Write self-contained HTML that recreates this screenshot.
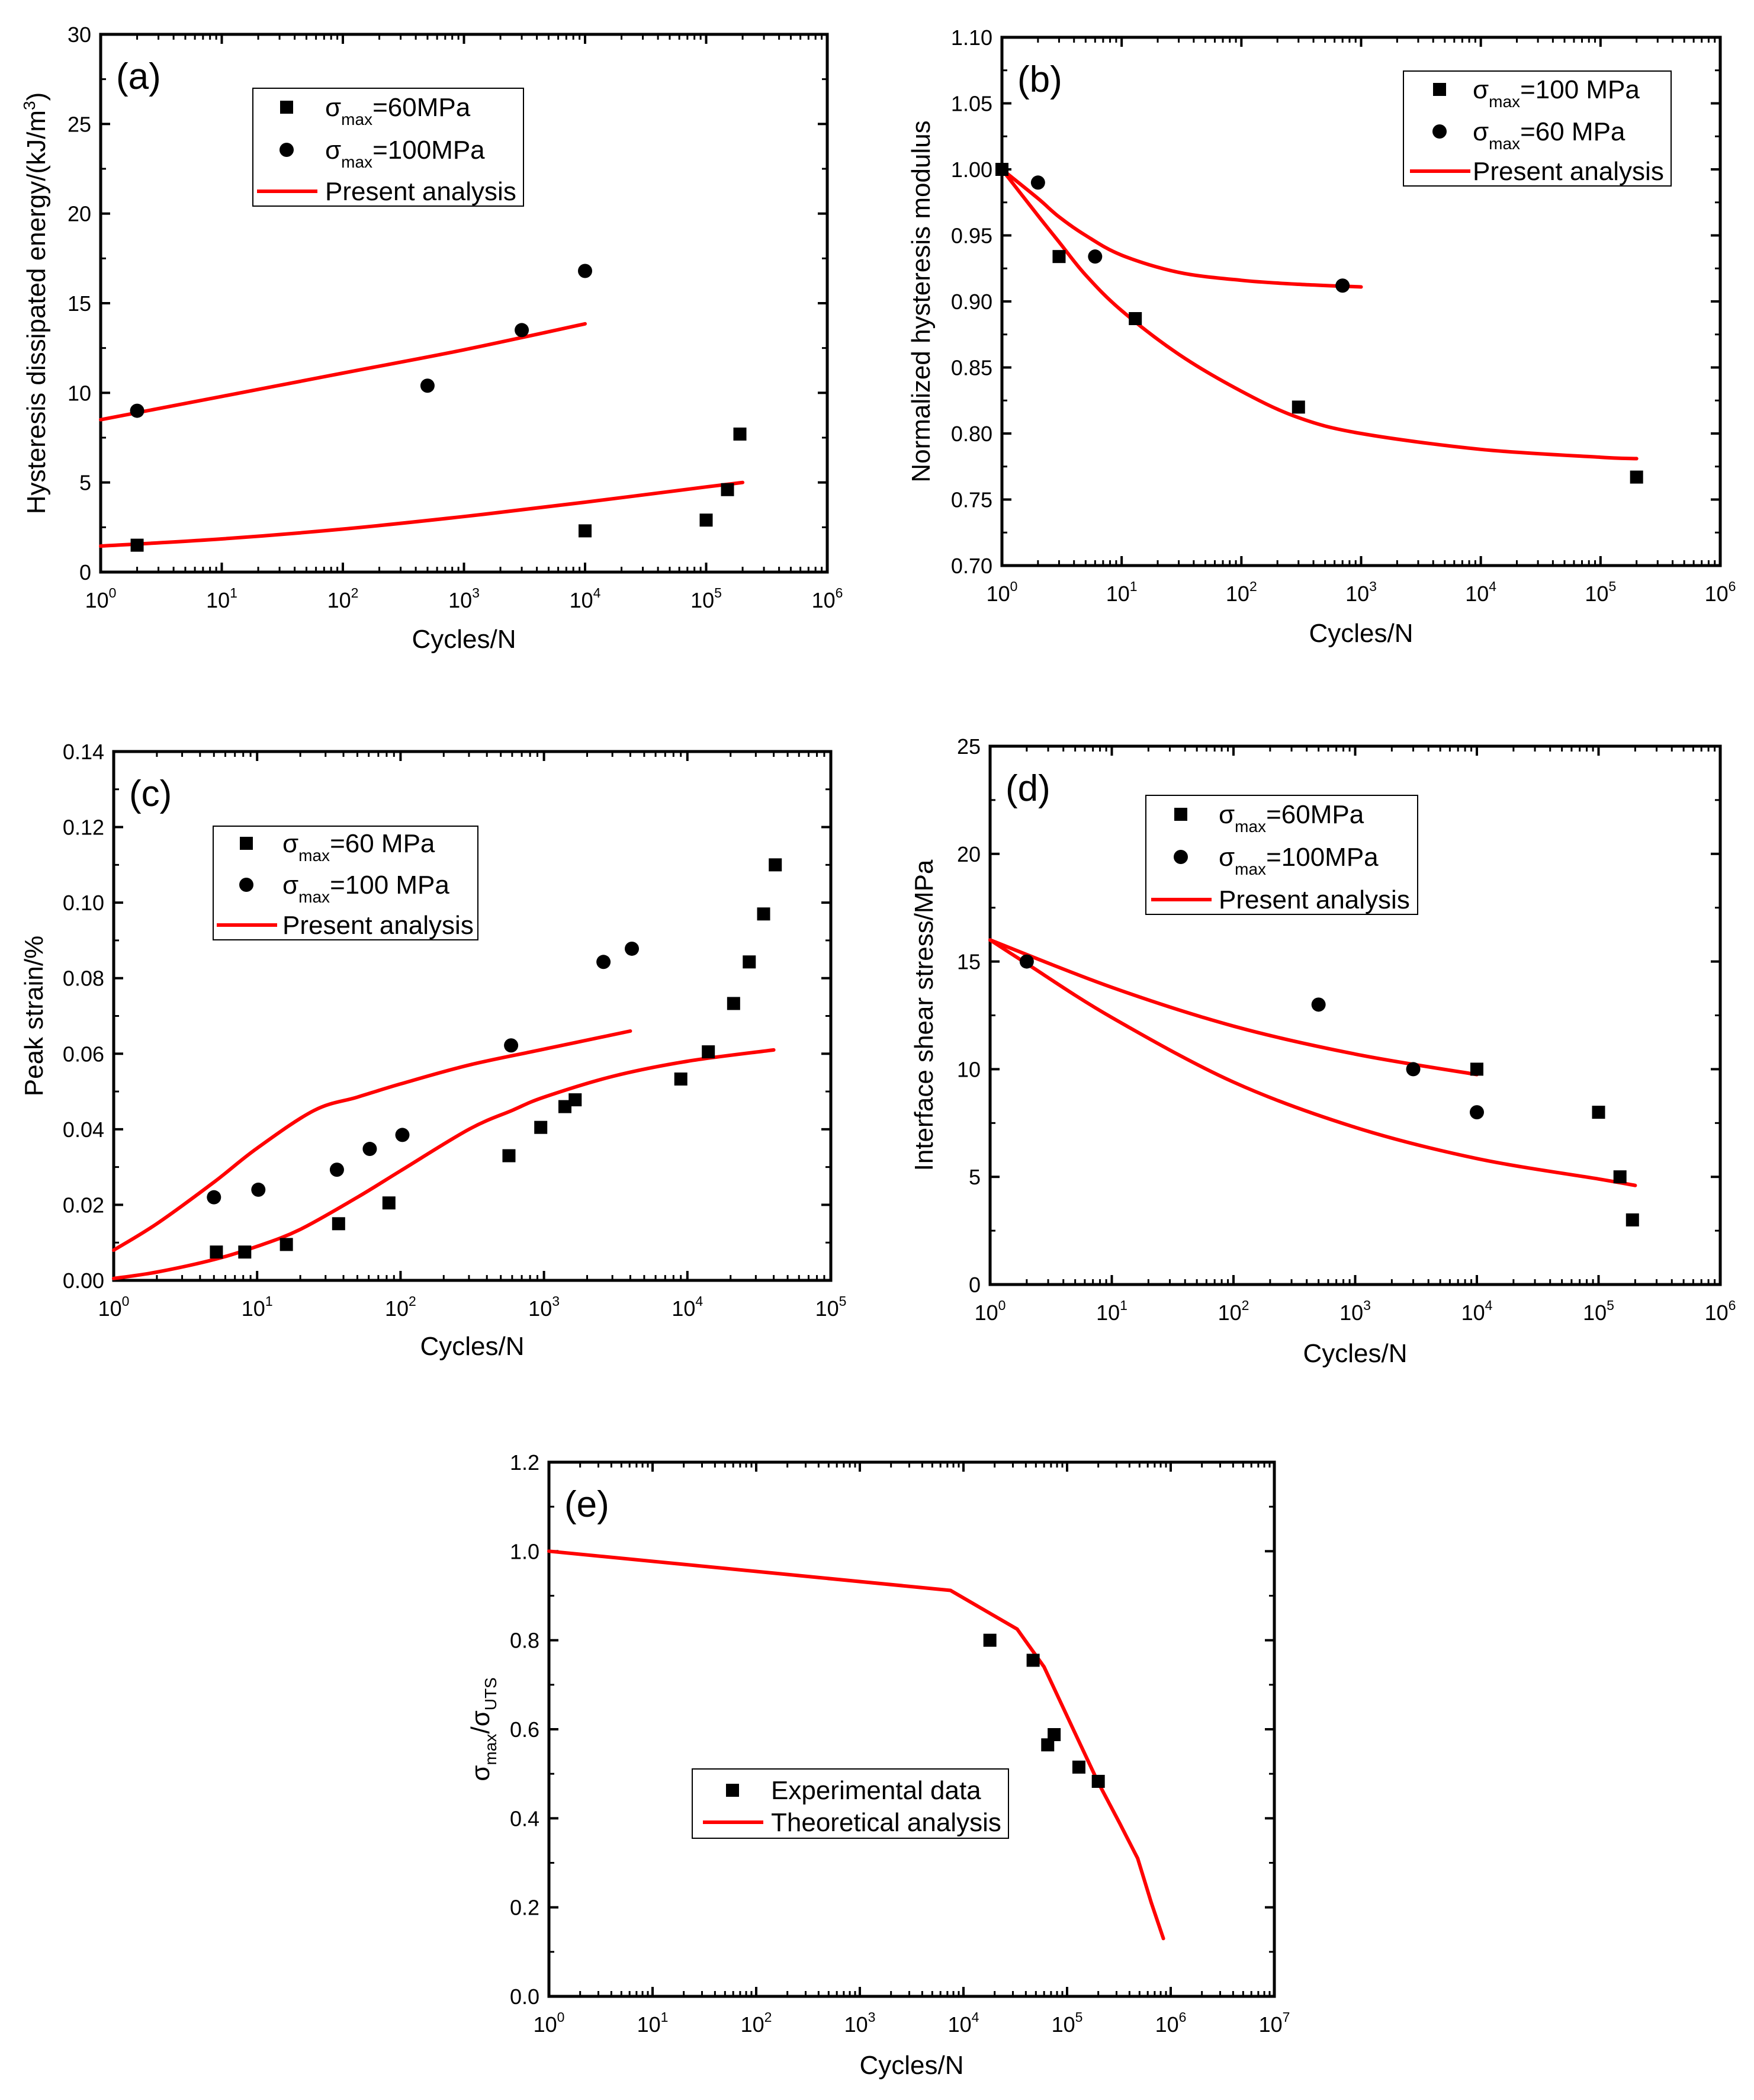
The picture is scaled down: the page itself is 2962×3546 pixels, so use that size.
<!DOCTYPE html>
<html><head><meta charset="utf-8"><style>
html,body{margin:0;padding:0;background:#fff;}
svg{display:block;font-family:"Liberation Sans",Arial,sans-serif;}
</style></head><body>
<svg id="fig" xmlns="http://www.w3.org/2000/svg" width="2962" height="3546" viewBox="0 0 2962 3546"></svg>
<script>
// ---------- DATA ----------
// (a)
const aSqX=[2,1e4,1e5,1.5e5,1.9e5];
const aSqY=[1.5,2.3,2.9,4.6,7.7];
const aCiX=[2,500,3000,1e4];
const aCiY=[9.0,10.4,13.5,16.8];
const aUpX=[1,10,100,1000,1e4];
const aUpY=[8.5,9.8,11.1,12.4,13.85];
const aLoX=[1,10,100,1000,1e4,1e5,2e5];
const aLoY=[1.45,1.85,2.4,3.1,3.9,4.75,5.0];
const aYTicks=[0,5,10,15,20,25,30];
// (b)
const bSqX=[1,3,13,300,2e5];
const bSqY=[1.0,0.934,0.887,0.820,0.767];
const bCiX=[2,6,700];
const bCiY=[0.990,0.934,0.912];
const bUpX=[1,2,3,5,10,30,100,300,1000];
const bUpY=[1.0,0.978,0.964,0.95,0.935,0.922,0.916,0.913,0.911];
const bLoX=[1,2,3,5,10,30,100,300,1000,1e4,1e5,2e5];
const bLoY=[1.0,0.965,0.945,0.92,0.893,0.86,0.832,0.812,0.800,0.788,0.782,0.781];
const bYTicks=["0.70","0.75","0.80","0.85","0.90","0.95","1.00","1.05","1.10"];
// (c)
const cSqX=[5.2,8.2,16,37,83,570,950,1400,1650,9000,14000,21000,27000,34000,41000];
const cSqY=[0.0075,0.0075,0.0095,0.015,0.0205,0.033,0.0405,0.046,0.0478,0.0533,0.0605,0.0733,0.0843,0.097,0.110];
const cCiX=[5,10.2,36,61,103,590,2600,4100];
const cCiY=[0.022,0.024,0.0293,0.0348,0.0385,0.0622,0.0843,0.0878];
const cUpX=[1,2,5,10,25,50,100,300,1000,4000];
const cUpY=[0.008,0.015,0.026,0.035,0.045,0.0485,0.052,0.057,0.0612,0.066];
const cLoX=[1,2,5,10,20,50,100,300,600,1000,3000,1e4,4e4];
const cLoY=[0.0005,0.0022,0.0055,0.009,0.0135,0.022,0.029,0.040,0.045,0.0485,0.054,0.058,0.061];
const cYTicks=["0.00","0.02","0.04","0.06","0.08","0.10","0.12","0.14"];
// (d)
const dSqX=[1e4,1e5,1.5e5,1.9e5];
const dSqY=[10,8,5,3];
const dCiX=[2,500,3000,1e4];
const dCiY=[15,13,10,8];
const dUpX=[1,10,100,1000,1e4];
const dUpY=[16,13.8,12,10.7,9.75];
const dLoX=[1,2,10,100,1000,1e4,1e5,2e5];
const dLoY=[16,14.9,12.4,9.4,7.3,5.85,4.9,4.6];
const dYTicks=[0,5,10,15,20,25];
// (e)
const eSqX=[1.8e4,4.7e4,6.5e4,7.5e4,1.3e5,2e5];
const eSqY=[0.80,0.755,0.565,0.588,0.515,0.483];
const eLnX=[1,7500,3.3e4,6e4,1.2e5,2e5,3.2e5,4.8e5,6.5e5,8.5e5];
const eLnY=[1.0,0.912,0.825,0.74,0.59,0.48,0.39,0.31,0.21,0.13];
const eYTicks=["0.0","0.2","0.4","0.6","0.8","1.0","1.2"];

// ---------- DRAWING ----------
const NS="http://www.w3.org/2000/svg";
const svg=document.getElementById('fig');
function mk(tag,attrs,parent){const e=document.createElementNS(NS,tag);for(const k in attrs)e.setAttribute(k,attrs[k]);(parent||svg).appendChild(e);return e;}

function smoothPath(pts){
  let d='M'+pts[0][0].toFixed(1)+','+pts[0][1].toFixed(1);
  for(let i=0;i<pts.length-1;i++){
    const p0=pts[i-1]||pts[i],p1=pts[i],p2=pts[i+1],p3=pts[i+2]||p2;
    const c1x=p1[0]+(p2[0]-p0[0])/6,c1y=p1[1]+(p2[1]-p0[1])/6;
    const c2x=p2[0]-(p3[0]-p1[0])/6,c2y=p2[1]-(p3[1]-p1[1])/6;
    d+=` C${c1x.toFixed(1)},${c1y.toFixed(1)} ${c2x.toFixed(1)},${c2y.toFixed(1)} ${p2[0].toFixed(1)},${p2[1].toFixed(1)}`;
  }
  return d;
}

function panel(p){
  const g=mk('g',{});
  
  
  const X=v=>p.x0+(Math.log10(v)-0)/p.dec*(p.x1-p.x0);
  const Y=v=>p.y1-(v-p.ymin)/(p.ymax-p.ymin)*(p.y1-p.y0);
  const fr=mk('rect',{x:p.x0,y:p.y0,width:p.x1-p.x0,height:p.y1-p.y0,fill:'none',stroke:'#000','stroke-width':5},g);
  
  
  for(let d=0;d<=p.dec;d++){
    const x=X(Math.pow(10,d));
    mk('line',{x1:x,y1:p.y1,x2:x,y2:p.y1-16,stroke:'#000','stroke-width':4},g);
    mk('line',{x1:x,y1:p.y0,x2:x,y2:p.y0+16,stroke:'#000','stroke-width':4},g);
    const t=mk('text',{x:x,y:p.y1+60,'font-size':36,'text-anchor':'middle'},g);
    
    
    t.appendChild(document.createTextNode('10'));
    const s=mk('tspan',{'font-size':23,dy:-17},t);s.textContent=d;
    if(d<p.dec){for(let m=2;m<=9;m++){const xm=X(m*Math.pow(10,d));
      mk('line',{x1:xm,y1:p.y1,x2:xm,y2:p.y1-9,stroke:'#000','stroke-width':3},g);
      mk('line',{x1:xm,y1:p.y0,x2:xm,y2:p.y0+9,stroke:'#000','stroke-width':3},g);}}
  }
  const yt=p.yticks;
  for(let i=0;i<yt.length;i++){
    const v=parseFloat(yt[i]);const y=Y(v);
    mk('line',{x1:p.x0,y1:y,x2:p.x0+16,y2:y,stroke:'#000','stroke-width':4},g);
    mk('line',{x1:p.x1,y1:y,x2:p.x1-16,y2:y,stroke:'#000','stroke-width':4},g);
    const t=mk('text',{x:p.x0-16,y:y+13,'font-size':36,'text-anchor':'end'},g);
    
    
    t.textContent=yt[i];
    if(i<yt.length-1){const ym=Y((v+parseFloat(yt[i+1]))/2);
      mk('line',{x1:p.x0,y1:ym,x2:p.x0+9,y2:ym,stroke:'#000','stroke-width':3},g);
      mk('line',{x1:p.x1,y1:ym,x2:p.x1-9,y2:ym,stroke:'#000','stroke-width':3},g);}
  }
  const xt=mk('text',{x:(p.x0+p.x1)/2,y:p.xty,'font-size':44,'text-anchor':'middle'},g);
  
  
  xt.textContent='Cycles/N';
  const ytl=mk('text',{x:0,y:0,'font-size':44,'text-anchor':'middle',transform:`translate(${p.ytx},${(p.y0+p.y1)/2}) rotate(-90)`},g);
  
  
  p.ytitle(ytl);
  const pl=mk('text',{x:p.x0+26,y:p.y0+92,'font-size':62},g);
  
  
  pl.textContent=p.label;
  p.lines.forEach(L=>{
    const pts=L[0].map((v,i)=>[X(v),Y(L[1][i])]);
    const d=p.linear?pts.map((q,i)=>(i?'L':'M')+q[0].toFixed(1)+','+q[1].toFixed(1)).join(' '):smoothPath(pts);
    const pa=mk('path',{d:d,fill:'none',stroke:'#ff0000','stroke-width':6,'stroke-linejoin':'round','stroke-linecap':'round'},g);
    
    
  });
  const sq=(x,y,par)=>mk('rect',{x:x-11,y:y-11,width:22,height:22,fill:'#000'},par);
  const ci=(x,y,par)=>mk('circle',{cx:x,cy:y,r:12,fill:'#000'},par);
  (p.sq||[]).forEach(S=>S[0].forEach((v,i)=>{const m=sq(X(v),Y(S[1][i]),g);
    
    }));
  (p.ci||[]).forEach(S=>S[0].forEach((v,i)=>{const m=ci(X(v),Y(S[1][i]),g);
    
    }));
  const L=p.leg;
  const lg=mk('g',{},g);
  
  
  mk('rect',{x:L.x,y:L.y,width:L.w,height:L.h,fill:'#fff',stroke:'#000','stroke-width':2},lg);
  L.items.forEach((it,k)=>{
    const y=L.rows[k];
    if(it.t==='sq')sq(L.mx,y,lg);
    else if(it.t==='ci')ci(L.mx,y,lg);
    else mk('line',{x1:L.mx-50,y1:y,x2:L.mx+52,y2:y,stroke:'#ff0000','stroke-width':6},lg);
    const t=mk('text',{x:L.tx,y:y+15,'font-size':44},lg);
    
    
    if(it.sig){
      t.appendChild(document.createTextNode('σ'));
      const s=mk('tspan',{'font-size':28,dy:15},t);s.textContent='max';
      const r=mk('tspan',{dy:-15},t);r.textContent=it.sig;
    } else t.textContent=it.txt;
  });
}

function simple(s){return el=>{el.textContent=s;};}

panel({name:'panel-a',label:'(a)',x0:170,x1:1397,y0:58,y1:966,dec:6,ymin:0,ymax:30,yticks:aYTicks.map(String),
  xty:1094,ytx:76,
  ytitle:el=>{el.appendChild(document.createTextNode('Hysteresis dissipated energy/(kJ/m'));const s=mk('tspan',{'font-size':28,dy:-17},el);s.textContent='3';const r=mk('tspan',{dy:17},el);r.textContent=')';},
  lines:[[aUpX,aUpY],[aLoX,aLoY]],sq:[[aSqX,aSqY]],ci:[[aCiX,aCiY]],
  leg:{x:427,y:149,w:457,h:199,mx:484,tx:549,rows:[181,253,323],items:[{t:'sq',sig:'=60MPa'},{t:'ci',sig:'=100MPa'},{t:'ln',txt:'Present analysis'}]}});

panel({name:'panel-b',label:'(b)',x0:1692,x1:2905,y0:63,y1:955,dec:6,ymin:0.70,ymax:1.10,yticks:bYTicks,
  xty:1084,ytx:1570,ytitle:simple('Normalized hysteresis modulus'),
  lines:[[bUpX,bUpY],[bLoX,bLoY]],sq:[[bSqX,bSqY]],ci:[[bCiX,bCiY]],
  leg:{x:2370,y:120,w:452,h:194,mx:2431,tx:2487,rows:[151,222,289],items:[{t:'sq',sig:'=100 MPa'},{t:'ci',sig:'=60 MPa'},{t:'ln',txt:'Present analysis'}]}});

panel({name:'panel-c',label:'(c)',x0:192,x1:1403,y0:1269,y1:2162,dec:5,ymin:0,ymax:0.14,yticks:cYTicks,
  xty:2288,ytx:72,ytitle:simple('Peak strain/%'),
  lines:[[cUpX,cUpY],[cLoX,cLoY]],sq:[[cSqX,cSqY]],ci:[[cCiX,cCiY]],
  leg:{x:360,y:1395,w:447,h:192,mx:416,tx:477,rows:[1424,1494,1562],items:[{t:'sq',sig:'=60 MPa'},{t:'ci',sig:'=100 MPa'},{t:'ln',txt:'Present analysis'}]}});

panel({name:'panel-d',label:'(d)',x0:1672,x1:2905,y0:1260,y1:2169,dec:6,ymin:0,ymax:25,yticks:dYTicks.map(String),
  xty:2300,ytx:1575,ytitle:simple('Interface shear stress/MPa'),
  lines:[[dUpX,dUpY],[dLoX,dLoY]],sq:[[dSqX,dSqY]],ci:[[dCiX,dCiY]],
  leg:{x:1935,y:1343,w:459,h:201,mx:1994,tx:2058,rows:[1375,1447,1519],items:[{t:'sq',sig:'=60MPa'},{t:'ci',sig:'=100MPa'},{t:'ln',txt:'Present analysis'}]}});

panel({name:'panel-e',label:'(e)',x0:927,x1:2152,y0:2469,y1:3371,dec:7,ymin:0,ymax:1.2,yticks:eYTicks,linear:true,
  xty:3502,ytx:826,
  ytitle:el=>{el.appendChild(document.createTextNode('σ'));const s=mk('tspan',{'font-size':28,dy:12},el);s.textContent='max';const r=mk('tspan',{dy:-12},el);r.textContent='/σ';const u=mk('tspan',{'font-size':28,dy:12},el);u.textContent='UTS';},
  lines:[[eLnX,eLnY]],sq:[[eSqX,eSqY]],ci:[],
  leg:{x:1169,y:2987,w:534,h:117,mx:1237,tx:1302,rows:[3023,3077],items:[{t:'sq',txt:'Experimental data'},{t:'ln',txt:'Theoretical analysis'}]}});
</script>
</body></html>
